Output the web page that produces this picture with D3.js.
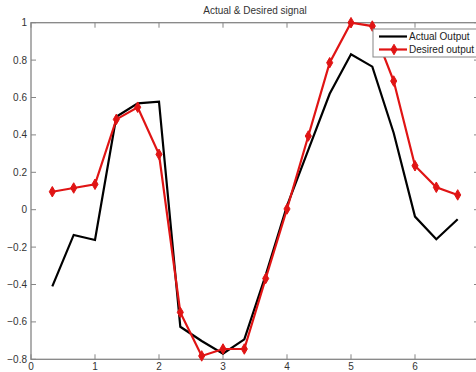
<!DOCTYPE html>
<html>
<head>
<meta charset="utf-8">
<script src="https://cdn.jsdelivr.net/npm/d3@7"></script>
<style>
  body { margin: 0; background: #fff; }
  svg { display: block; font-family: "Liberation Sans", Arial, sans-serif; }
</style>
</head>
<body>
<div id="chart"></div>
<script>
// sample positions (k/3) and the two signals
var xValues = [0.333, 0.667, 1.0, 1.333, 1.667, 2.0, 2.333, 2.667, 3.0, 3.333,
               3.667, 4.0, 4.333, 4.667, 5.0, 5.333, 5.667, 6.0, 6.333, 6.667]
var actualOutput = [-0.41, -0.135, -0.162, 0.497, 0.569, 0.578, -0.626, -0.702, -0.77, -0.693,
                    -0.35, 0.02, 0.32, 0.62, 0.831, 0.765, 0.41, -0.037, -0.158, -0.051]
var desiredOutput = [0.096, 0.116, 0.136, 0.483, 0.548, 0.296, -0.549, -0.782, -0.745, -0.745,
                     -0.368, 0.004, 0.394, 0.786, 1.0, 0.982, 0.688, 0.235, 0.12, 0.079]
var xTicks = [0, 1, 2, 3, 4, 5, 6, 7]
var xTickLabels = ["0", "1", "2", "3", "4", "5", "6"]
var yTicks = [-0.8, -0.6, -0.4, -0.2, 0, 0.2, 0.4, 0.6, 0.8, 1]
var seriesNames = ["Actual Output", "Desired output"]

var W = 476, H = 372
var margin = { left: 31, top: 22.7, right: -3, bottom: 12.7 }
var width = W - margin.left - margin.right
var height = H - margin.top - margin.bottom

var svg = d3.select("#chart").append("svg")
    .attr("width", W)
    .attr("height", H)

var x = d3.scaleLinear().domain([0, 7]).range([0, width])
var y = d3.scaleLinear().domain([-0.8, 1]).range([height, 0])

var g = svg.append("g")
    .attr("transform", "translate(" + margin.left + "," + margin.top + ")")

var axisColor = "#858585"
var tickLen = 5

// box
g.append("rect")
    .attr("width", width).attr("height", height)
    .attr("fill", "none")
    .attr("stroke", axisColor)
    .attr("stroke-width", 1.3)

// x ticks (bottom + top, inward); the 7 sits past the window edge
xTicks.forEach(function(t, i) {
    g.append("line").attr("x1", x(t)).attr("x2", x(t)).attr("y1", height).attr("y2", height - tickLen)
        .attr("stroke", axisColor).attr("stroke-width", 1)
    g.append("line").attr("x1", x(t)).attr("x2", x(t)).attr("y1", 0).attr("y2", tickLen)
        .attr("stroke", axisColor).attr("stroke-width", 1)
    if (i < xTickLabels.length) {
        g.append("text")
            .attr("x", x(t)).attr("y", height + 11)
            .attr("text-anchor", "middle")
            .attr("font-size", 10)
            .attr("fill", "#333")
            .text(xTickLabels[i])
    }
})

// y ticks (left + right, inward)
yTicks.forEach(function(t) {
    g.append("line").attr("x1", 0).attr("x2", tickLen).attr("y1", y(t)).attr("y2", y(t))
        .attr("stroke", axisColor).attr("stroke-width", 1)
    g.append("line").attr("x1", width).attr("x2", width - tickLen).attr("y1", y(t)).attr("y2", y(t))
        .attr("stroke", axisColor).attr("stroke-width", 1)
    g.append("text")
        .attr("x", -4).attr("y", y(t))
        .attr("dy", "0.35em")
        .attr("text-anchor", "end")
        .attr("font-size", 10)
        .attr("fill", "#333")
        .text(t === 0 ? "0" : d3.format(".1f")(t).replace("1.0", "1"))
})

// title
svg.append("text")
    .attr("x", margin.left + width / 2).attr("y", 14)
    .attr("text-anchor", "middle")
    .attr("font-size", 10)
    .attr("fill", "#333")
    .text("Actual & Desired signal")

var line = d3.line()
    .x(function(d) { return x(d[0]) })
    .y(function(d) { return y(d[1]) })

var actualData = d3.zip(xValues, actualOutput)
var desiredData = d3.zip(xValues, desiredOutput)

var red = "#e01414"

g.append("path")
    .datum(actualData)
    .attr("d", line)
    .attr("fill", "none")
    .attr("stroke", "#000")
    .attr("stroke-width", 2.2)

g.append("path")
    .datum(desiredData)
    .attr("d", line)
    .attr("fill", "none")
    .attr("stroke", red)
    .attr("stroke-width", 2.2)

var diamond = d3.symbol().type(d3.symbolDiamond).size(32)

g.selectAll(".marker")
    .data(desiredData)
    .enter().append("path")
    .attr("class", "marker")
    .attr("transform", function(d) { return "translate(" + x(d[0]) + "," + y(d[1]) + ")" })
    .attr("d", diamond)
    .attr("fill", red)
    .attr("stroke", red)
    .attr("stroke-width", 1)

// legend
var legend = svg.append("g").attr("transform", "translate(373,29)")
legend.append("rect")
    .attr("width", 106).attr("height", 28)
    .attr("fill", "#fff")
    .attr("stroke", axisColor)
    .attr("stroke-width", 1)

var rows = [{ name: seriesNames[0], color: "#000", marker: false },
            { name: seriesNames[1], color: red, marker: true }]
rows.forEach(function(r, i) {
    var ly = 7.5 + i * 13
    legend.append("line")
        .attr("x1", 6).attr("x2", 34).attr("y1", ly).attr("y2", ly)
        .attr("stroke", r.color).attr("stroke-width", 2.2)
    if (r.marker) {
        legend.append("path")
            .attr("transform", "translate(21," + ly + ")")
            .attr("d", diamond)
            .attr("fill", red).attr("stroke", red)
    }
    legend.append("text")
        .attr("x", 36).attr("y", ly)
        .attr("dy", "0.35em")
        .attr("font-size", 10)
        .attr("fill", "#222")
        .text(r.name)
})
</script>
</body>
</html>
